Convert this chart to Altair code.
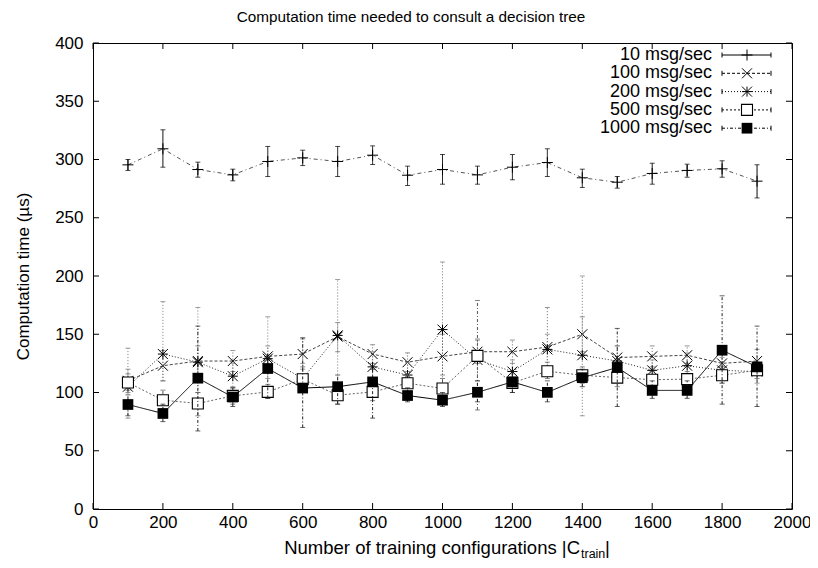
import altair as alt
import pandas as pd

# ---------------- data ----------------
sizes = [100, 200, 300, 400, 500, 600, 700, 800, 900, 1000,
         1100, 1200, 1300, 1400, 1500, 1600, 1700, 1800, 1900]

series_names = ["10 msg/sec", "100 msg/sec", "200 msg/sec", "500 msg/sec", "1000 msg/sec"]

v10 = [295.4, 309.2, 291.4, 286.8, 298.3, 301.4, 298.3, 303.7, 286.5, 291.4,
       286.8, 293.4, 297.4, 284.3, 280.5, 288.0, 290.6, 292.0, 281.4]
lo10 = [290.6, 293.4, 284.8, 281.7, 285.4, 294.8, 285.4, 295.7, 277.7, 278.8,
        278.8, 282.6, 285.4, 276.0, 275.4, 278.8, 284.8, 284.8, 267.0]
hi10 = [300.0, 325.5, 297.7, 291.7, 311.2, 308.0, 311.2, 311.7, 294.3, 304.3,
        294.3, 304.3, 309.2, 291.7, 285.4, 296.8, 296.0, 298.9, 295.5]

v100 = [110, 123, 127, 127, 131, 133, 148, 133, 126, 131,
        135, 135, 139, 150, 130, 131, 132, 125, 127]
lo100 = [100, 110, 115, 118, 122, 120, 135, 125, 118, 115,
         125, 125, 120, 135, 120, 122, 125, 115, 118]
hi100 = [120, 136, 140, 136, 140, 146, 160, 141, 134, 150,
         145, 145, 173, 165, 140, 140, 140, 135, 137]

v200 = [105, 133, 126, 114, 129, 112, 149, 122, 115, 154,
        128, 118, 137, 132, 127, 119, 123, 119, 118]
lo200 = [78, 110, 100, 105, 112, 100, 100, 110, 105, 95,
         110, 108, 120, 80, 115, 110, 112, 108, 108]
hi200 = [138, 178, 173, 125, 165, 125, 197, 135, 126, 212,
         146, 128, 150, 200, 140, 128, 134, 130, 128]

v500 = [108.6, 93.4, 90.6, 97.1, 100.5, 111.4, 97.7, 100.5, 108.0, 103.4,
        131.4, 108.3, 118.3, 114.8, 112.8, 111.0, 111.5, 114.8, 119.1]
lo500 = [102, 85, 80, 90, 95, 100, 90, 93, 100, 95,
         85, 100, 112, 108, 105, 104, 105, 108, 112]
hi500 = [116, 102, 100, 104, 107, 122, 106, 108, 116, 112,
         179, 116, 126, 122, 120, 118, 118, 122, 126]

v1000 = [89.7, 82.0, 112.3, 96.1, 120.6, 103.8, 105.0, 109.1, 97.4, 93.4,
         100.2, 109.1, 100.1, 112.7, 121.5, 101.8, 101.8, 136.3, 122.0]
lo1000 = [80, 75, 67, 88, 95, 70, 90, 78, 92, 88,
          92, 100, 92, 105, 88, 95, 95, 90, 88]
hi1000 = [98, 90, 157, 104, 130, 147, 115, 120, 104, 100,
          110, 118, 110, 120, 155, 110, 110, 183, 157]

x_ticks = [0, 200, 400, 600, 800, 1000, 1200, 1400, 1600, 1800, 2000]
y_ticks = [0, 50, 100, 150, 200, 250, 300, 350, 400]

title_text = "Computation time needed to consult a decision tree"
x_title_main = "Number of training configurations |C"
x_title_sub = "train"
x_title_end = "|"
y_title = "Computation time (\u00b5s)"

# ---------------- styling ----------------
FONT = "Liberation Sans"
FS = 17
W, H = 699, 466

PLUS = "M-1,0H1M0,-1V1"
CROSS = "M-1,-1L1,1M-1,1L1,-1"
STAR = "M-1,0H1M0,-1V1M-1,-1L1,1M-1,1L1,-1"

styles = {
    "10 msg/sec":   dict(shape=PLUS, filled=False, size=121, line_dash=[4, 3, 1, 3], line_color="#555555",
                         err_dash=[1, 0], err_color="black"),
    "100 msg/sec":  dict(shape=CROSS, filled=False, size=100, line_dash=[3, 2], line_color="#444444",
                         err_dash=[1, 2], err_color="#666666"),
    "200 msg/sec":  dict(shape=STAR, filled=False, size=100, line_dash=[1, 2], line_color="#222222",
                         err_dash=[1, 2], err_color="#777777"),
    "500 msg/sec":  dict(shape="square", filled=False, size=121, line_dash=[2, 2], line_color="#666666",
                         err_dash=[3, 2, 1, 2], err_color="#555555"),
    "1000 msg/sec": dict(shape="square", filled=True, size=115, line_dash=[1, 0], line_color="black",
                         err_dash=[3, 2, 1, 2], err_color="#222222"),
}
legend_dash = {
    "10 msg/sec": [1, 0],
    "100 msg/sec": [3, 2],
    "200 msg/sec": [1, 2],
    "500 msg/sec": [2, 2],
    "1000 msg/sec": [3, 2, 1, 2],
}

values = {
    "10 msg/sec": (v10, lo10, hi10),
    "100 msg/sec": (v100, lo100, hi100),
    "200 msg/sec": (v200, lo200, hi200),
    "500 msg/sec": (v500, lo500, hi500),
    "1000 msg/sec": (v1000, lo1000, hi1000),
}

xscale = alt.Scale(domain=[0, 2000], nice=False, zero=False)
yscale = alt.Scale(domain=[0, 400], nice=False, zero=False)

x_axis = alt.Axis(values=x_ticks, ticks=False, domain=False, grid=False, title=None,
                  labelFont=FONT, labelFontSize=FS, labelColor="black", labelPadding=5,
                  labelFlush=False, labelOverlap=False, format="d")
y_axis = alt.Axis(values=y_ticks, ticks=False, domain=False, grid=False, title=y_title,
                  labelFont=FONT, labelFontSize=FS, labelColor="black", labelPadding=10,
                  labelOverlap=False, format="d",
                  titleFont=FONT, titleFontSize=FS, titleFontWeight="normal", titleColor="black",
                  titleAngle=-90, titleX=-70, titleY=H / 2, titleAlign="center", titleBaseline="middle")


def X(field):
    return alt.X(field, type="quantitative", scale=xscale, axis=x_axis)


def Y(field):
    return alt.Y(field, type="quantitative", scale=yscale, axis=y_axis)


def marker(chart, st):
    if st["filled"]:
        return chart.mark_point(shape=st["shape"], filled=True, fill="black", strokeWidth=0,
                                size=st["size"], opacity=1)
    if st["shape"] == "square":
        return chart.mark_point(shape="square", filled=False, fill="white", stroke="black",
                                strokeWidth=1.1, size=st["size"], opacity=1)
    return chart.mark_point(shape=st["shape"], filled=False, stroke="black", strokeWidth=1,
                            size=st["size"], opacity=1)


layers = []

# inward ticks on all four sides
xt = pd.DataFrame({"t": x_ticks})
yt = pd.DataFrame({"t": y_ticks})
TL = 6
layers.append(alt.Chart(xt).mark_rule(color="black", strokeWidth=1).encode(
    x=X("t"), y=alt.value(H), y2=alt.value(H - TL)))
layers.append(alt.Chart(xt).mark_rule(color="black", strokeWidth=1).encode(
    x=X("t"), y=alt.value(0), y2=alt.value(TL)))
layers.append(alt.Chart(yt).mark_rule(color="black", strokeWidth=1).encode(
    y=Y("t"), x=alt.value(0), x2=alt.value(TL)))
layers.append(alt.Chart(yt).mark_rule(color="black", strokeWidth=1).encode(
    y=Y("t"), x=alt.value(W - TL), x2=alt.value(W)))

for name in series_names:
    v, lo, hi = values[name]
    st = styles[name]
    df = pd.DataFrame({"x": sizes, "y": v, "lo": lo, "hi": hi})
    base = alt.Chart(df)
    layers.append(base.mark_line(color=st["line_color"], strokeWidth=1, strokeDash=st["line_dash"]).encode(
        x=X("x"), y=Y("y")))
    layers.append(base.mark_rule(color=st["err_color"], strokeWidth=1, strokeDash=st["err_dash"]).encode(
        x=X("x"), y=Y("lo"), y2="hi"))
    layers.append(base.mark_tick(color=st["err_color"], orient="horizontal", size=5, thickness=1).encode(
        x=X("x"), y=Y("lo")))
    layers.append(base.mark_tick(color=st["err_color"], orient="horizontal", size=5, thickness=1).encode(
        x=X("x"), y=Y("hi")))
    layers.append(marker(base, st).encode(x=X("x"), y=Y("y")))

# legend (gnuplot style: text left of sample)
LFS = 18
leg_text_x = 619
leg_x1, leg_x2, leg_mid = 629, 678, 654
for i, name in enumerate(series_names):
    ry = 12 + 18.3 * i
    st = styles[name]
    one = alt.Chart(pd.DataFrame({"label": [name]}))
    layers.append(one.mark_text(align="right", baseline="middle", font=FONT, fontSize=LFS, color="black").encode(
        text="label:N", x=alt.value(leg_text_x), y=alt.value(ry)))
    layers.append(one.mark_rule(color="black", strokeWidth=1, strokeDash=legend_dash[name]).encode(
        x=alt.value(leg_x1), x2=alt.value(leg_x2), y=alt.value(ry)))
    layers.append(one.mark_rule(color="black", strokeWidth=1).encode(
        x=alt.value(leg_x1), y=alt.value(ry - 2.5), y2=alt.value(ry + 2.5)))
    layers.append(one.mark_rule(color="black", strokeWidth=1).encode(
        x=alt.value(leg_x2), y=alt.value(ry - 2.5), y2=alt.value(ry + 2.5)))
    layers.append(marker(one, st).encode(x=alt.value(leg_mid), y=alt.value(ry)))

# chart title and x-axis title as text
t = alt.Chart(pd.DataFrame({"s": [title_text]}))
layers.append(t.mark_text(align="center", baseline="middle", font=FONT, fontSize=15.3, color="black").encode(
    text="s:N", x=alt.value(411 - 93), y=alt.value(-26)))
xa = alt.Chart(pd.DataFrame({"s": [x_title_main]}))
layers.append(xa.mark_text(align="right", baseline="middle", font=FONT, fontSize=18.5, color="black").encode(
    text="s:N", x=alt.value(487), y=alt.value(505)))
xs = alt.Chart(pd.DataFrame({"s": [x_title_sub]}))
layers.append(xs.mark_text(align="left", baseline="middle", font=FONT, fontSize=12.5, color="black").encode(
    text="s:N", x=alt.value(488), y=alt.value(511)))
xe = alt.Chart(pd.DataFrame({"s": [x_title_end]}))
layers.append(xe.mark_text(align="left", baseline="middle", font=FONT, fontSize=18.5, color="black").encode(
    text="s:N", x=alt.value(512), y=alt.value(505)))

chart = alt.layer(*layers).properties(
    width=W, height=H,
    autosize=alt.AutoSizeParams(type="none"),
    padding={"left": 85, "top": 35, "right": 18, "bottom": 51},
    background="white",
).configure_view(stroke="black", strokeWidth=1)

chart.save("out.html", embed_options={"renderer": "svg", "actions": False})
